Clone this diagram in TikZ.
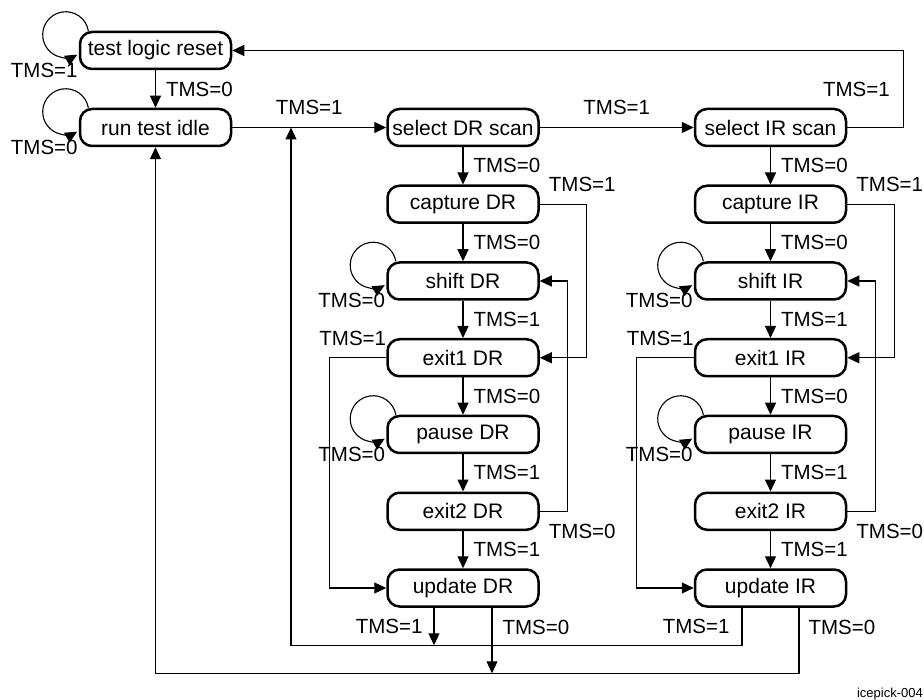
\documentclass[tikz,border=0pt]{standalone}
\usepackage{fontspec}
\setmainfont{Liberation Sans}
\usetikzlibrary{arrows.meta,calc}
\newcommand\selfloop[1]{\draw[arr] ([xshift=9.6pt]#1.north west) arc[start angle=10,end angle=300,radius=23pt];}
\begin{document}
\begin{tikzpicture}[x=1pt,y=1pt,
  state/.style={draw, line width=2.5pt, rounded corners=12pt, minimum width=151pt, minimum height=37pt, inner sep=0pt, font=\fontsize{21}{25}\selectfont},
  lbl/.style={inner sep=0pt, font=\fontsize{20.5}{24}\selectfont},
  arr/.style={line width=1.1pt, -{Triangle[length=12pt,width=11pt]}},
  wire/.style={line width=1.1pt}]
\useasboundingbox (0,0) rectangle (924,-700);

% states
\node[state] (tlr) at (155.5,-50.5) {test logic reset};
\node[state] (rti) at (155.5,-127.5) {run test idle};

\node[state] (sdr)  at (463,-127.5)  {select DR scan};
\node[state] (cdr)  at (463,-204.25) {capture DR};
\node[state] (shdr) at (463,-281)    {shift DR};
\node[state] (xadr) at (463,-357.75) {exit1 DR};
\node[state] (pdr)  at (463,-434.5)  {pause DR};
\node[state] (xbdr) at (463,-511.25) {exit2 DR};
\node[state] (udr)  at (463,-588)    {update DR};

\node[state] (sir)  at (770.5,-127.5)  {select IR scan};
\node[state] (cir)  at (770.5,-204.25) {capture IR};
\node[state] (shir) at (770.5,-281)    {shift IR};
\node[state] (xair) at (770.5,-357.75) {exit1 IR};
\node[state] (pir)  at (770.5,-434.5)  {pause IR};
\node[state] (xbir) at (770.5,-511.25) {exit2 IR};
\node[state] (uir)  at (770.5,-588)    {update IR};

% top part
\selfloop{tlr}
\node[lbl, anchor=east] at ([xshift=-1pt]tlr.south west) {TMS=1};
\selfloop{rti}
\node[lbl, anchor=east] at ([xshift=-1pt]rti.south west) {TMS=0};
\draw[arr] (tlr) -- (rti) node[lbl, midway, right=10pt] {TMS=0};
\draw[arr] (rti) -- (sdr) node[lbl, midway, above=12pt] {TMS=1};
\draw[arr] (sdr) -- (sir) node[lbl, midway, above=12pt] {TMS=1};
\draw[arr] (sir.east) -- ++(56,0) coordinate (c1) |- node[lbl, pos=0.25, left=13pt] {TMS=1} (tlr.east);

% DR column
\draw[arr] (sdr) -- (cdr) node[lbl, midway, right=10pt] {TMS=0};
\draw[arr] (cdr) -- (shdr) node[lbl, midway, right=10pt] {TMS=0};
\draw[arr] (shdr) -- (xadr) node[lbl, midway, right=10pt] {TMS=1};
\draw[arr] (xadr) -- (pdr) node[lbl, midway, right=10pt] {TMS=0};
\draw[arr] (pdr) -- (xbdr) node[lbl, midway, right=10pt] {TMS=1};
\draw[arr] (xbdr) -- (udr) node[lbl, midway, right=10pt] {TMS=1};
\draw[arr] (cdr.east) -- ++(47,0) |- (xadr.east);
\node[lbl, anchor=west] at ([xshift=9pt]cdr.north east) {TMS=1};
\draw[arr] (xbdr.east) -- ++(28,0) |- (shdr.east);
\node[lbl, anchor=west] at ([xshift=9pt]xbdr.south east) {TMS=0};
\draw[arr] (xadr.west) -- ++(-57,0) |- (udr.west);
\node[lbl, anchor=east] at (xadr.north west) {TMS=1};
\selfloop{shdr}
\node[lbl, anchor=east] at ([xshift=-1pt]shdr.south west) {TMS=0};
\selfloop{pdr}
\node[lbl, anchor=east] at ([xshift=-1pt]pdr.south west) {TMS=0};

% IR column
\draw[arr] (sir) -- (cir) node[lbl, midway, right=10pt] {TMS=0};
\draw[arr] (cir) -- (shir) node[lbl, midway, right=10pt] {TMS=0};
\draw[arr] (shir) -- (xair) node[lbl, midway, right=10pt] {TMS=1};
\draw[arr] (xair) -- (pir) node[lbl, midway, right=10pt] {TMS=0};
\draw[arr] (pir) -- (xbir) node[lbl, midway, right=10pt] {TMS=1};
\draw[arr] (xbir) -- (uir) node[lbl, midway, right=10pt] {TMS=1};
\draw[arr] (cir.east) -- ++(47,0) |- (xair.east);
\node[lbl, anchor=west] at ([xshift=9pt]cir.north east) {TMS=1};
\draw[arr] (xbir.east) -- ++(28,0) |- (shir.east);
\node[lbl, anchor=west] at ([xshift=9pt]xbir.south east) {TMS=0};
\draw[arr] (xair.west) -- ++(-57,0) |- (uir.west);
\node[lbl, anchor=east] at (xair.north west) {TMS=1};
\selfloop{shir}
\node[lbl, anchor=east] at ([xshift=-1pt]shir.south west) {TMS=0};
\selfloop{pir}
\node[lbl, anchor=east] at ([xshift=-1pt]pir.south west) {TMS=0};

% return paths
\coordinate (j1) at (291,-127.5);
\draw[arr] ([xshift=-28.5pt]uir.south) -- node[lbl, pos=0.5, left=12pt] {TMS=1} ++(0,-37.5) -| (j1);
\draw[arr] ([xshift=-29pt]udr.south) -- node[lbl, pos=0.5, left=11pt] {TMS=1} ++(0,-37.5);
\draw[arr] ([xshift=28.5pt]uir.south) -- node[lbl, pos=0.3, right=9pt] {TMS=0} ++(0,-65.5) -| (rti.south);
\draw[arr] ([xshift=29pt]udr.south) -- node[lbl, pos=0.3, right=10pt] {TMS=0} ++(0,-65.5);

\node[inner sep=0pt, anchor=east, font=\fontsize{13}{15}\selectfont] (tag) at (923,-694) {icepick-004};
\end{tikzpicture}
\end{document}
